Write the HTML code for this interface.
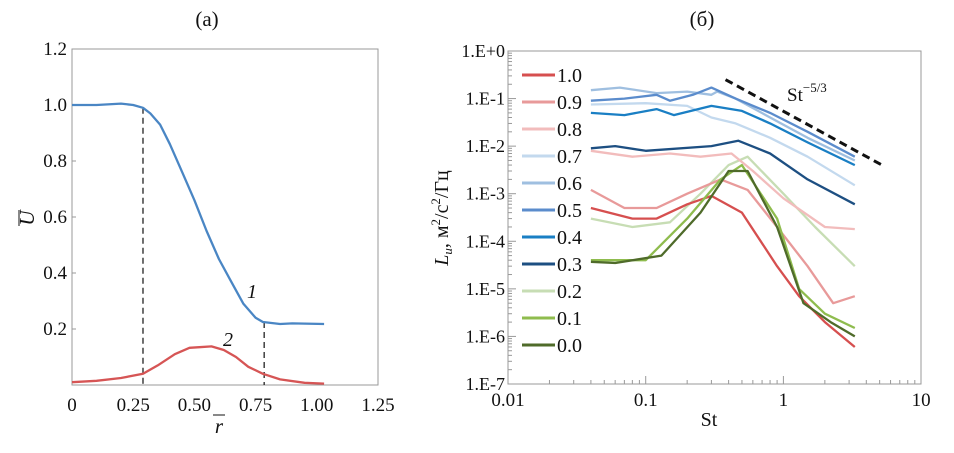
<!DOCTYPE html>
<html><head><meta charset="utf-8"><style>
body{margin:0;background:#fff;width:954px;height:448px;overflow:hidden}
svg text{font-family:"Liberation Serif",serif;fill:#111}
</style></head><body>
<svg width="954" height="448" id="svg">
<g id="left"></g>
<g id="right"></g>
</svg>
<script>
const NS="http://www.w3.org/2000/svg";
function el(p,t,a){const e=document.createElementNS(NS,t);for(const k in a)e.setAttribute(k,a[k]);p.appendChild(e);return e;}
// ---- Left chart data ----
const leftXTicks=[0,0.25,0.5,0.75,1.0,1.25];
const leftXLabels=["0","0.25","0.50","0.75","1.00","1.25"];
const leftYTicks=[0.2,0.4,0.6,0.8,1.0,1.2];
const leftYLabels=["0.2","0.4","0.6","0.8","1.0","1.2"];
const curve1R=[0,0.1,0.2,0.25,0.29,0.32,0.36,0.4,0.45,0.5,0.55,0.6,0.65,0.7,0.75,0.78,0.85,0.9,1.03];
const curve1U=[1.0,1.0,1.005,1.0,0.99,0.97,0.93,0.86,0.76,0.66,0.55,0.45,0.37,0.29,0.24,0.225,0.218,0.22,0.218];
const curve2R=[0,0.1,0.2,0.29,0.35,0.42,0.48,0.52,0.57,0.62,0.67,0.72,0.78,0.85,0.95,1.03];
const curve2U=[0.01,0.015,0.025,0.04,0.07,0.11,0.133,0.135,0.138,0.125,0.1,0.065,0.04,0.02,0.008,0.005];
const dashR=[0.29,0.785];
const dashU=[0.99,0.225];

const L=document.getElementById('left');
const lx=v=>72+v*244.8, ly=v=>385-v*280;
const lb=el(L,'rect',{x:72,y:49,width:306,height:336,fill:'none',stroke:'#999','stroke-width':1});


leftXTicks.forEach((v,i)=>{const t=el(L,'text',{x:lx(v),y:411,'font-size':19,'text-anchor':'middle'});t.textContent=leftXLabels[i];

});
leftYTicks.forEach((v,i)=>{el(L,'line',{x1:72,x2:76,y1:ly(v),y2:ly(v),stroke:'#999'});const t=el(L,'text',{x:67,y:ly(v)+6,'font-size':19,'text-anchor':'end'});t.textContent=leftYLabels[i];

});
dashR.forEach((r,i)=>{const d=el(L,'line',{x1:lx(r),x2:lx(r),y1:ly(dashU[i]),y2:ly(0),stroke:'#222','stroke-width':1.3,'stroke-dasharray':'6,4'});

});
function poly(p,xs,ys,fx,fy,col,w,name){const pts=xs.map((x,i)=>fx(x).toFixed(1)+','+fy(ys[i]).toFixed(1)).join(' ');
const e=el(p,'polyline',{points:pts,fill:'none',stroke:col,'stroke-width':w,'stroke-linejoin':'round'});

return e;}
poly(L,curve1R,curve1U,lx,ly,'#4a86c4',2.3,'curve-1');
poly(L,curve2R,curve2U,lx,ly,'#d65555',2.3,'curve-2');
[['(a)',207,26,21,'normal','chart-a-title'],['1',252,298,20,'italic','curve-1-label'],['2',228,346,20,'italic','curve-2-label'],['r',219,433,21,'italic','x-axis-title']].forEach(a=>{const t=el(L,'text',{x:a[1],y:a[2],'font-size':a[3],'font-style':a[4],'text-anchor':'middle'});t.textContent=a[0];

});
el(L,'line',{x1:213,x2:225,y1:415,y2:415,stroke:'#111'});
const yt=el(L,'text',{x:0,y:0,'font-size':21,'font-style':'italic','text-anchor':'middle',transform:'translate(34,218) rotate(-90)'});yt.textContent='U';


el(L,'line',{x1:19,x2:19,y1:210,y2:226,stroke:'#111'});

// ---- Right chart data ----
const rxTicks=[0.01,0.1,1,10];
const rxLabels=["0.01","0.1","1","10"];
const ryTicks=[1,1e-1,1e-2,1e-3,1e-4,1e-5,1e-6,1e-7];
const ryLabels=["1.E+0","1.E-1","1.E-2","1.E-3","1.E-4","1.E-5","1.E-6","1.E-7"];
const seriesNames=["1.0","0.9","0.8","0.7","0.6","0.5","0.4","0.3","0.2","0.1","0.0"];
const seriesColors=["#d64f4f","#e89a9a","#f2bcbc","#c3d9ee","#9fbfe0","#5b8ccc","#1a7fc4","#1d4f82","#c7ddb4","#8fbc4e","#4f6b2a"];
const st10=[0.04,0.08,0.12,0.2,0.3,0.5,0.9,1.3,2,3.3];
const s10=[0.0005,0.0003,0.0003,0.0006,0.0009,0.0004,0.00003,0.000007,0.000002,0.0000006];
const st09=[0.04,0.07,0.12,0.2,0.35,0.55,0.9,1.5,2.3,3.3];
const s09=[0.0012,0.0005,0.0005,0.001,0.002,0.0012,0.0002,0.00003,0.000005,0.000007];
const st08=[0.04,0.08,0.15,0.25,0.42,0.6,1.0,2,3.3];
const s08=[0.008,0.006,0.007,0.006,0.007,0.003,0.0008,0.0002,0.00018];
const st07=[0.04,0.1,0.2,0.3,0.45,0.8,1.5,3.3];
const s07=[0.075,0.08,0.07,0.04,0.03,0.015,0.006,0.0015];
const st06=[0.04,0.065,0.12,0.2,0.3,0.33,0.45,0.8,1.5,3.3];
const s06=[0.15,0.17,0.13,0.14,0.12,0.14,0.1,0.04,0.015,0.005];
const st05=[0.04,0.07,0.12,0.15,0.22,0.3,0.45,0.8,1.5,3.3];
const s05=[0.09,0.1,0.12,0.09,0.12,0.17,0.1,0.05,0.02,0.006];
const st04=[0.04,0.07,0.12,0.16,0.3,0.5,0.8,1.5,3.3];
const s04=[0.05,0.045,0.06,0.045,0.07,0.055,0.03,0.012,0.004];
const st03=[0.04,0.06,0.1,0.3,0.47,0.8,1.5,3.3];
const s03=[0.009,0.01,0.008,0.01,0.013,0.007,0.002,0.0006];
const st02=[0.04,0.08,0.15,0.25,0.4,0.55,1.0,1.7,3.3];
const s02=[0.0003,0.0002,0.00025,0.001,0.004,0.006,0.001,0.0002,0.00003];
const st01=[0.04,0.1,0.2,0.35,0.5,0.9,1.3,2,3.3];
const s01=[0.00004,0.00004,0.0003,0.002,0.004,0.0003,0.00001,0.000003,0.0000015];
const st00=[0.04,0.06,0.13,0.25,0.4,0.55,0.9,1.4,2.2,3.3];
const s00=[0.000037,0.000035,0.00005,0.0004,0.003,0.003,0.0002,0.000005,0.000002,0.000001];
const seriesX=[st10,st09,st08,st07,st06,st05,st04,st03,st02,st01,st00];
const seriesY=[s10,s09,s08,s07,s06,s05,s04,s03,s02,s01,s00];
const slopeX=[0.38,5.2];
const slopeY=[0.25,0.004];

const R=document.getElementById('right');
const rx=v=>508+(Math.log10(v)+2)*137.7, ry=v=>51-Math.log10(v)*47.57;
const rb=el(R,'rect',{x:508,y:51,width:413,height:333,fill:'none',stroke:'#999'});


for(let d=-2;d<1;d++)for(let k=1;k<10;k++){const x=rx(k*Math.pow(10,d));el(R,'line',{x1:x,x2:x,y1:384,y2:k==1?376:380,stroke:'#999'});}
for(let d=-7;d<0;d++)for(let k=1;k<10;k++){const y=ry(k*Math.pow(10,d));el(R,'line',{x1:508,x2:k==1?516:512,y1:y,y2:y,stroke:'#999'});}
rxTicks.forEach((v,i)=>{const t=el(R,'text',{x:rx(v),y:406,'font-size':19,'text-anchor':'middle'});t.textContent=rxLabels[i];

});
ryTicks.forEach((v,i)=>{const t=el(R,'text',{x:505,y:ry(v)+6,'font-size':18,'text-anchor':'end'});t.textContent=ryLabels[i];

});
const order=[8,2,1,0,9,10,7,3,6,4,5];
order.forEach(i=>poly(R,seriesX[i],seriesY[i],rx,ry,seriesColors[i],2.3,'series-'+seriesNames[i]));
const sl=el(R,'line',{x1:rx(slopeX[0]),y1:ry(slopeY[0]),x2:rx(slopeX[1]),y2:ry(slopeY[1]),stroke:'#111','stroke-width':3,'stroke-dasharray':'8,5'});


const stl=el(R,'text',{x:787,y:101,'font-size':19});stl.innerHTML='St<tspan dy="-9" font-size="13">−5/3</tspan>';


seriesNames.forEach((n,i)=>{const y=75+i*27;const g=el(R,'g',{});


el(g,'line',{x1:522,x2:555,y1:y,y2:y,stroke:seriesColors[i],'stroke-width':3});
const t=el(g,'text',{x:557,y:y+7,'font-size':20});t.textContent=n;});
const tb=el(R,'text',{x:702,y:26,'font-size':21,'text-anchor':'middle'});tb.textContent='(б)';


const sx=el(R,'text',{x:709,y:426,'font-size':20,'text-anchor':'middle'});sx.textContent='St';


const ty=el(R,'text',{x:0,y:0,'font-size':20,'text-anchor':'middle',transform:'translate(448,218) rotate(-90)'});ty.innerHTML='<tspan font-style="italic">L<tspan font-size="13" dy="4">u</tspan></tspan><tspan dy="-4">, м</tspan><tspan dy="-8" font-size="13">2</tspan><tspan dy="8">/с</tspan><tspan dy="-8" font-size="13">2</tspan><tspan dy="8">/Гц</tspan>';


</script>
</body></html>
